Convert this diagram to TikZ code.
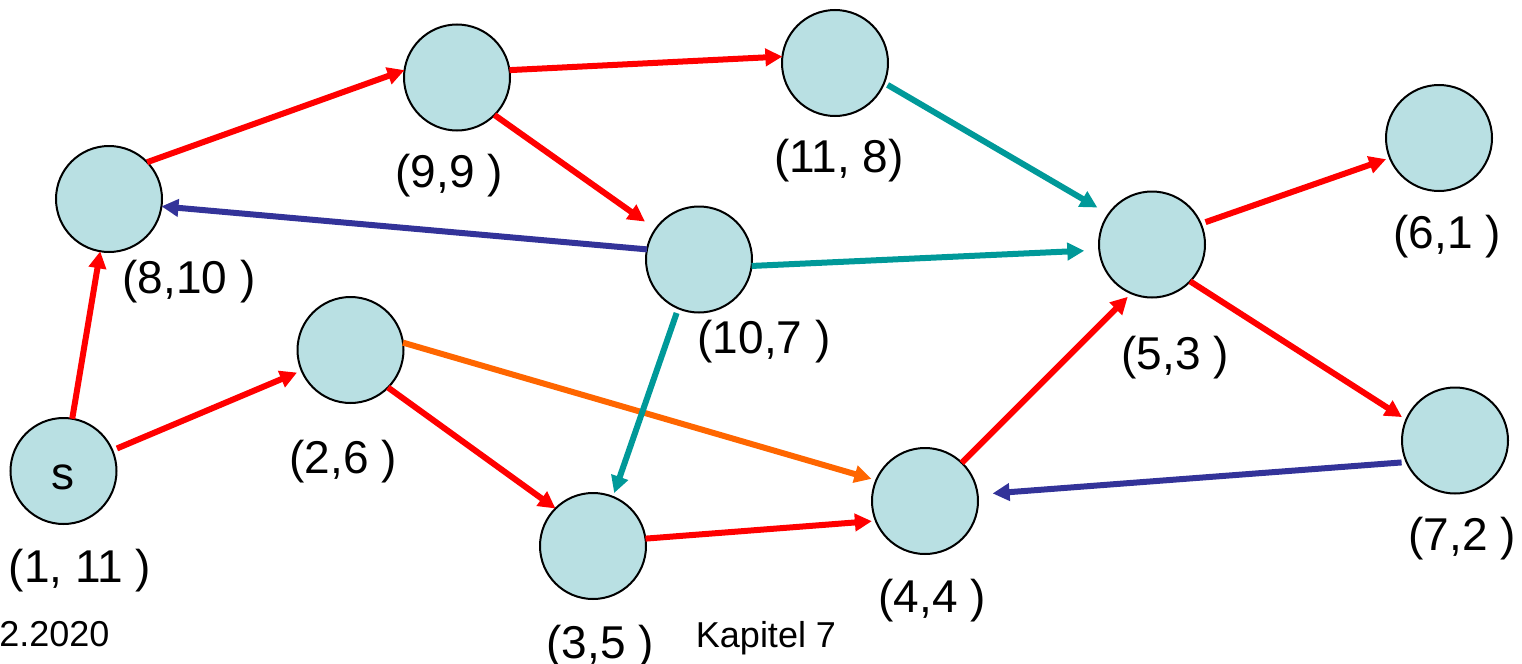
\documentclass[tikz,border=0pt]{standalone}
\usepackage{fontspec}
\setmainfont{Liberation Sans}
\usetikzlibrary{arrows.meta}
\definecolor{nodefill}{RGB}{185,224,227}
\definecolor{ered}{RGB}{255,0,0}
\definecolor{eteal}{RGB}{0,153,153}
\definecolor{eblue}{RGB}{51,51,153}
\definecolor{eorange}{RGB}{255,102,0}
\begin{document}
\begin{tikzpicture}[x=0.5pt,y=0.5pt,
  vtx/.style={circle,draw=black,line width=1pt,fill=nodefill,minimum size=53pt,inner sep=0pt,outer sep=0pt},
  lbl/.style={anchor=base,inner sep=0pt,font=\fontsize{23}{27}\selectfont},
  small/.style={anchor=base,inner sep=0pt,font=\fontsize{18}{22}\selectfont},
  edge/.style={line width=3pt,-{Triangle[length=8.5pt,width=8.5pt]}},
]
\useasboundingbox (0,0) rectangle (1522,-664);
% vertices
\node[vtx] (s)    at (63.5,-471) {};
\node[vtx] (n810) at (109,-199) {};
\node[vtx] (n99)  at (457,-77.5) {};
\node[vtx] (n118) at (835,-63) {};
\node[vtx] (n107) at (699,-259.5) {};
\node[vtx] (n26)  at (350.5,-350) {};
\node[vtx] (n35)  at (593,-546) {};
\node[vtx] (n44)  at (925,-501) {};
\node[vtx] (n53)  at (1152,-244.5) {};
\node[vtx] (n61)  at (1439,-138) {};
\node[vtx] (n72)  at (1455,-440.5) {};
% texts
\node[lbl] (stxt) at (63,-489) {s};
\node[lbl] (l1)   at (80,-582) {(1, 11 )};
\node[lbl] (l810) at (189,-293) {(8,10 )};
\node[lbl] (l99)  at (449,-187) {(9,9 )};
\node[lbl] (l118) at (839,-172) {(11, 8)};
\node[lbl] (l107) at (764,-353) {(10,7 )};
\node[lbl] (l26)  at (343,-473) {(2,6 )};
\node[lbl] (l35)  at (600,-658) {(3,5 )};
\node[lbl] (l44)  at (932,-612) {(4,4 )};
\node[lbl] (l53)  at (1175,-369) {(5,3 )};
\node[lbl] (l61)  at (1447,-248) {(6,1 )};
\node[lbl] (l72)  at (1462,-550) {(7,2 )};
\node[small] (kap) at (766,-647) {Kapitel 7};
\node[small,anchor=base west] (date) at (-1,-646) {2.2020};
% edges
\draw[edge,ered] (s) -- (n810);
\draw[edge,ered,shorten <=2.5pt,shorten >=2.5pt] (s) -- (n26);
\draw[edge,ered] (n810.44) -- (n99.172);
\draw[edge,ered] (n99.8) -- (n118.173);
\draw[edge,ered,shorten >=6.5pt] (n99.-45) -- (n107.145);
\draw[edge,eblue] (n107.169) -- (n810.-8);
\draw[edge,eteal,shorten <=2pt,shorten >=6.5pt] (n118.-22) -- (n53.145);
\draw[edge,eteal,shorten >=7.5pt] (n107.-7) -- (n53.186);
\draw[edge,ered] (n26.-45) -- (n35.135);
\draw[edge,eorange,shorten >=2.5pt] (n26.8) -- (n44.157);
\draw[edge,eteal,shorten <=2.5pt,shorten >=2pt] (n107.247) -- (n35.68);
\draw[edge,ered,shorten >=2pt] (n35.8) -- (n44.202);
\draw[edge,ered,shorten >=2.5pt] (n44.46) -- (n53.247);
\draw[edge,ered,shorten <=2.5pt,shorten >=2pt] (n53.23) -- (n61.202);
\draw[edge,ered,shorten >=2.5pt] (n53.-44) -- (n72.157);
\draw[edge,eblue,shorten <=2.5pt,shorten >=7.5pt] (n72.204) -- (n44.7);
\end{tikzpicture}
\end{document}
